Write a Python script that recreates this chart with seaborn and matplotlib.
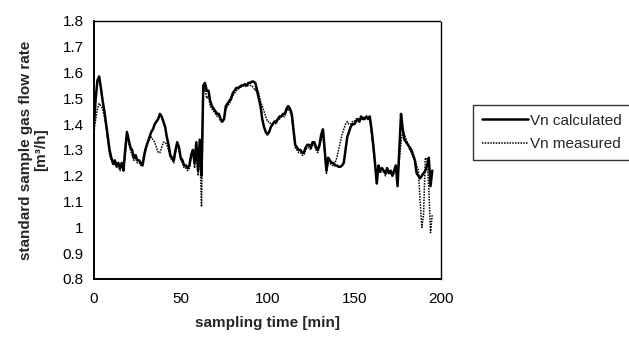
import numpy as np
import pandas as pd
import matplotlib
matplotlib.use('Agg')
import matplotlib.pyplot as plt
import seaborn as sns

#-----------------------------------------------------------------------
# data (1 min steps)
#-----------------------------------------------------------------------
time_min = list(range(0, 196))

vn_calculated = [
    1.40, 1.50, 1.57, 1.585, 1.54, 1.49, 1.45, 1.40, 1.35, 1.30,
    1.27, 1.25, 1.26, 1.24, 1.25, 1.23, 1.25, 1.22, 1.30, 1.37,
    1.34, 1.31, 1.30, 1.27, 1.28, 1.26, 1.26, 1.25, 1.24, 1.28,
    1.31, 1.33, 1.35, 1.37, 1.38, 1.40, 1.41, 1.42, 1.44, 1.43,
    1.41, 1.39, 1.35, 1.32, 1.28, 1.27, 1.26, 1.30, 1.33, 1.31,
    1.27, 1.26, 1.24, 1.24, 1.23, 1.24, 1.28, 1.30, 1.25, 1.33,
    1.22, 1.34, 1.20, 1.55, 1.56, 1.53, 1.53, 1.49, 1.47, 1.46,
    1.45, 1.44, 1.44, 1.42, 1.41, 1.42, 1.47, 1.48, 1.49, 1.50,
    1.52, 1.53, 1.54, 1.54, 1.545, 1.55, 1.55, 1.555, 1.55, 1.56,
    1.56, 1.565, 1.565, 1.56, 1.53, 1.50, 1.47, 1.42, 1.39, 1.37,
    1.36, 1.37, 1.39, 1.40, 1.41, 1.41, 1.42, 1.43, 1.43, 1.44,
    1.44, 1.46, 1.47, 1.46, 1.44, 1.38, 1.32, 1.31, 1.30, 1.30,
    1.29, 1.29, 1.31, 1.32, 1.32, 1.31, 1.33, 1.33, 1.31, 1.30,
    1.32, 1.36, 1.38, 1.30, 1.22, 1.27, 1.26, 1.25, 1.25, 1.24,
    1.24, 1.235, 1.235, 1.24, 1.25, 1.30, 1.35, 1.37, 1.39, 1.40,
    1.40, 1.41, 1.42, 1.41, 1.43, 1.42, 1.42, 1.43, 1.42, 1.43,
    1.38, 1.32, 1.25, 1.17, 1.24, 1.22, 1.23, 1.22, 1.21, 1.23,
    1.21, 1.22, 1.20, 1.22, 1.24, 1.16, 1.30, 1.44, 1.38, 1.34,
    1.33, 1.32, 1.31, 1.30, 1.28, 1.26, 1.21, 1.20, 1.19, 1.20,
    1.21, 1.22, 1.24, 1.27, 1.16, 1.22,
]

vn_measured = [
    1.37, 1.42, 1.46, 1.48, 1.47, 1.46, 1.43, 1.39, 1.33, 1.28,
    1.26, 1.24, 1.25, 1.23, 1.24, 1.22, 1.24, 1.23, 1.28, 1.35,
    1.33, 1.30, 1.28, 1.26, 1.27, 1.25, 1.25, 1.24, 1.25, 1.29,
    1.31, 1.33, 1.34, 1.35, 1.34, 1.33, 1.31, 1.29, 1.29, 1.31,
    1.33, 1.33, 1.32, 1.30, 1.27, 1.26, 1.25, 1.29, 1.32, 1.30,
    1.26, 1.25, 1.23, 1.23, 1.22, 1.23, 1.27, 1.29, 1.23, 1.31,
    1.20, 1.30, 1.08, 1.52, 1.54, 1.50, 1.51, 1.47, 1.46, 1.45,
    1.44, 1.43, 1.43, 1.41, 1.41, 1.43, 1.46, 1.47, 1.48, 1.49,
    1.51, 1.52, 1.53, 1.535, 1.54, 1.545, 1.55, 1.55, 1.545, 1.55,
    1.55, 1.55, 1.54, 1.53, 1.54, 1.52, 1.49, 1.47, 1.45, 1.43,
    1.41, 1.41, 1.40, 1.40, 1.41, 1.40, 1.42, 1.42, 1.43, 1.43,
    1.43, 1.45, 1.46, 1.45, 1.43, 1.37, 1.31, 1.30, 1.29, 1.29,
    1.28, 1.28, 1.30, 1.31, 1.31, 1.30, 1.32, 1.32, 1.30, 1.29,
    1.31, 1.34, 1.36, 1.29, 1.21, 1.25, 1.25, 1.24, 1.24, 1.25,
    1.27, 1.30, 1.33, 1.36, 1.38, 1.40, 1.41, 1.40, 1.40, 1.41,
    1.41, 1.42, 1.42, 1.41, 1.42, 1.42, 1.43, 1.42, 1.43, 1.42,
    1.36, 1.30, 1.24, 1.20, 1.23, 1.21, 1.22, 1.22, 1.20, 1.22,
    1.21, 1.21, 1.20, 1.21, 1.23, 1.20, 1.26, 1.33, 1.37, 1.36,
    1.34, 1.32, 1.30, 1.29, 1.27, 1.26, 1.24, 1.22, 1.10, 1.00,
    1.05, 1.27, 1.26, 1.15, 0.98, 1.05,
]

x_ticks = [0, 50, 100, 150, 200]
y_ticks = [0.8, 0.9, 1, 1.1, 1.2, 1.3, 1.4, 1.5, 1.6, 1.7, 1.8]
y_tick_labels = ['0.8', '0.9', '1', '1.1', '1.2', '1.3', '1.4', '1.5', '1.6', '1.7', '1.8']

#-----------------------------------------------------------------------
# plot
#-----------------------------------------------------------------------
sns.set_style('white')
plt.rcParams['font.family'] = ['Liberation Sans', 'DejaVu Sans']

df = pd.DataFrame({'t': time_min, 'calc': vn_calculated, 'meas': vn_measured})

fig = plt.figure(figsize=(6.29, 3.43), dpi=100)
ax = fig.add_axes([0.1494, 0.1866, 0.5516, 0.7522])

sns.lineplot(data=df, x='t', y='calc', ax=ax, color='black', linewidth=1.8,
             label='Vn calculated')
sns.lineplot(data=df, x='t', y='meas', ax=ax, color='black', linewidth=1.1,
             linestyle=(0, (1, 0.8)), label='Vn measured')

ax.set_xlim(0, 200)
ax.set_ylim(0.8, 1.8)
ax.set_xticks(x_ticks)
ax.set_yticks(y_ticks)
ax.set_yticklabels(y_tick_labels)
ax.tick_params(direction='inout', length=7, width=1.1, labelsize=11, colors='black')
ax.tick_params(axis='x', pad=6)
ax.tick_params(axis='y', pad=4)

for side in ['left', 'bottom']:
    ax.spines[side].set_color('black')
    ax.spines[side].set_linewidth(1.4)
for side in ['top', 'right']:
    ax.spines[side].set_visible(True)
    ax.spines[side].set_color('black')
    ax.spines[side].set_linewidth(1.0)
    ax.spines[side].set_linestyle((0, (1, 1)))

ax.set_xlabel('sampling time [min]', fontsize=11, fontweight='bold', labelpad=7)
ax.set_ylabel('standard sample gas flow rate\n[m\u00b3/h]', fontsize=11,
              fontweight='bold', labelpad=10, linespacing=1.1)

leg = ax.legend(loc='upper left', bbox_to_anchor=(0.752, 0.695),
                bbox_transform=fig.transFigure, frameon=True, fancybox=False,
                fontsize=11, handlelength=3.0, borderpad=0.6, labelspacing=0.6,
                handletextpad=0.1, borderaxespad=0)
leg.get_frame().set_edgecolor('black')
leg.get_frame().set_linewidth(1.0)

fig.savefig('out.png', dpi=100)
